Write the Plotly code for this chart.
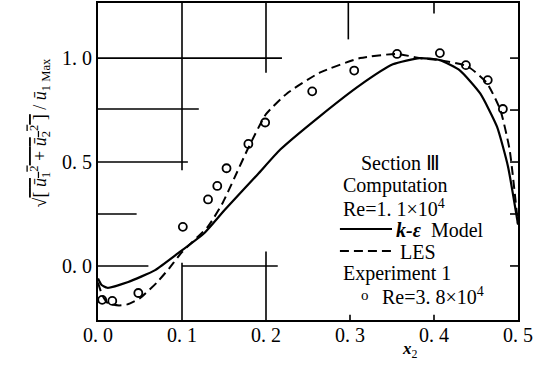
import plotly.graph_objects as go

# k-epsilon model (solid)
x_ke = [0.0, 0.004, 0.011, 0.036, 0.068, 0.095, 0.127, 0.151, 0.19, 0.217, 0.264, 0.312, 0.351, 0.383, 0.407, 0.431, 0.455, 0.475, 0.488, 0.5]
y_ke = [-0.06, -0.09, -0.105, -0.077, -0.02, 0.06, 0.16, 0.27, 0.44, 0.56, 0.72, 0.87, 0.97, 1.0, 0.99, 0.94, 0.83, 0.67, 0.48, 0.2]

# LES (dashed)
x_les = [0.0, 0.005, 0.012, 0.025, 0.035, 0.05, 0.07, 0.085, 0.1, 0.131, 0.148, 0.162, 0.178, 0.2, 0.225, 0.264, 0.312, 0.356, 0.383, 0.407, 0.44, 0.463, 0.479, 0.49, 0.5]
y_les = [-0.08, -0.14, -0.18, -0.19, -0.185, -0.155, -0.08, -0.01, 0.067, 0.19, 0.30, 0.42, 0.56, 0.73, 0.83, 0.93, 1.0, 1.02, 1.0, 0.99, 0.96, 0.88, 0.75, 0.56, 0.2]

# Experiment 1, Re = 3.8e4
x_exp = [0.005, 0.017, 0.048, 0.101, 0.131, 0.142, 0.153, 0.179, 0.199, 0.255, 0.305, 0.356, 0.407, 0.438, 0.464, 0.482]
y_exp = [-0.163, -0.168, -0.13, 0.188, 0.32, 0.385, 0.47, 0.587, 0.69, 0.84, 0.94, 1.02, 1.024, 0.966, 0.894, 0.755]

x_tickvals = [0.0, 0.1, 0.2, 0.3, 0.4, 0.5]
x_ticklabels = ["0. 0", "0. 1", "0. 2", "0. 3", "0. 4", "0. 5"]
y_tickvals = [0.0, 0.5, 1.0]
y_ticklabels = ["0. 0", "0. 5", "1. 0"]

FONT = "Liberation Serif, Times New Roman, serif"

fig = go.Figure()
fig.add_trace(go.Scatter(x=x_ke, y=y_ke, mode="lines",
                         line=dict(color="black", width=2.2, shape="spline", smoothing=0.5)))
fig.add_trace(go.Scatter(x=x_les, y=y_les, mode="lines",
                         line=dict(color="black", width=2, dash="9px,5px", shape="spline", smoothing=0.5)))
fig.add_trace(go.Scatter(x=x_exp, y=y_exp, mode="markers",
                         marker=dict(symbol="circle-open", size=8, color="black", line=dict(width=1.8))))

# partial graph-paper lines from the original figure
shapes = []
def line(x0, y0, x1, y1, w=1.6):
    shapes.append(dict(type="line", xref="x", yref="y", x0=x0, y0=y0, x1=x1, y1=y1,
                       line=dict(color="black", width=w)))

line(0, 1.0, 0.219, 1.0)
line(0, 0.755, 0.12, 0.755)
line(0, 0.5, 0.107, 0.5)
line(0, 0.25, 0.046, 0.25)
line(0, 0.0, 0.06, 0.0)
line(0.1, 0.0, 0.214, 0.0)
line(0.1, 1.265, 0.1, 0.46)
line(0.1, 0.015, 0.1, -0.26)
line(0.2, 1.265, 0.2, 0.93)
line(0.2, 0.07, 0.2, -0.26)
line(0.298, 1.265, 0.298, 1.09)
line(0.4, 1.265, 0.4, 1.215)
line(0.3, -0.26, 0.3, -0.235)
line(0.4, -0.26, 0.4, -0.235)
for yv in [0.0, 0.25, 0.5, 0.75, 1.0]:
    line(0.5, yv, 0.4905, yv)

# legend samples
def pline(x0, x1, y, dash=None):
    d = dict(color="black", width=2)
    if dash:
        d["dash"] = dash
    shapes.append(dict(type="line", xref="paper", yref="paper", x0=x0, x1=x1, y0=y, y1=y, line=d))

pline(0.576, 0.70, 0.287)
pline(0.576, 0.70, 0.218, "9px,5px")

ann = []
def txt(x, y, s, size=20, xanchor="left"):
    ann.append(dict(x=x, y=y, xref="paper", yref="paper", text=s, showarrow=False,
                    xanchor=xanchor, yanchor="middle", borderpad=0,
                    font=dict(family=FONT, size=size, color="black")))

txt(0.624, 0.495, "Section Ⅲ")
txt(0.580, 0.423, "Computation")
txt(0.580, 0.353, "Re=1. 1×10<sup>4</sup>")
txt(0.706, 0.284, "<b><i>k-ε</i></b>  Model")
txt(0.716, 0.215, "LES")
txt(0.580, 0.148, "Experiment 1")
txt(0.624, 0.080, "o", size=15)
txt(0.674, 0.076, "Re=3. 8×10<sup>4</sup>")

# axis titles
ann.append(dict(x=0.743, y=-0.095, xref="paper", yref="paper", showarrow=False,
                text="<b><i>x</i></b><sub>2</sub>", xanchor="center", yanchor="middle",
                font=dict(family=FONT, size=17, color="black")))
ann.append(dict(x=-0.137, y=0.59, xref="paper", yref="paper", showarrow=False, textangle=-90,
                text="√<span style='text-decoration:overline'>[ <i>ū</i><sub>1</sub><sup>2</sup> + <i>ū</i><sub>2</sub><sup>2</sup> ]</span> / <i>ū</i><sub>1 Max</sub>",
                xanchor="center", yanchor="middle",
                font=dict(family=FONT, size=18, color="black")))

fig.update_layout(
    width=539, height=368,
    margin=dict(l=98, r=21, t=3, b=48, autoexpand=False),
    plot_bgcolor="white", paper_bgcolor="white",
    showlegend=False,
    shapes=shapes, annotations=ann,
    xaxis=dict(range=[0, 0.5], tickvals=x_tickvals, ticktext=x_ticklabels,
               showgrid=False, zeroline=False, showline=True, linecolor="black",
               linewidth=2, mirror=True, ticks="", automargin=False, ticklabelstandoff=-4,
               tickfont=dict(family=FONT, size=20, color="black")),
    yaxis=dict(range=[-0.26, 1.265], tickvals=y_tickvals, ticktext=y_ticklabels,
               showgrid=False, zeroline=False, showline=True, linecolor="black",
               linewidth=2, mirror=True, ticks="", automargin=False,
               tickfont=dict(family=FONT, size=20, color="black")),
)

fig.write_html("out.html", config={"displayModeBar": False},
               post_script="document.body.style.margin='0';document.body.style.overflow='hidden';")
